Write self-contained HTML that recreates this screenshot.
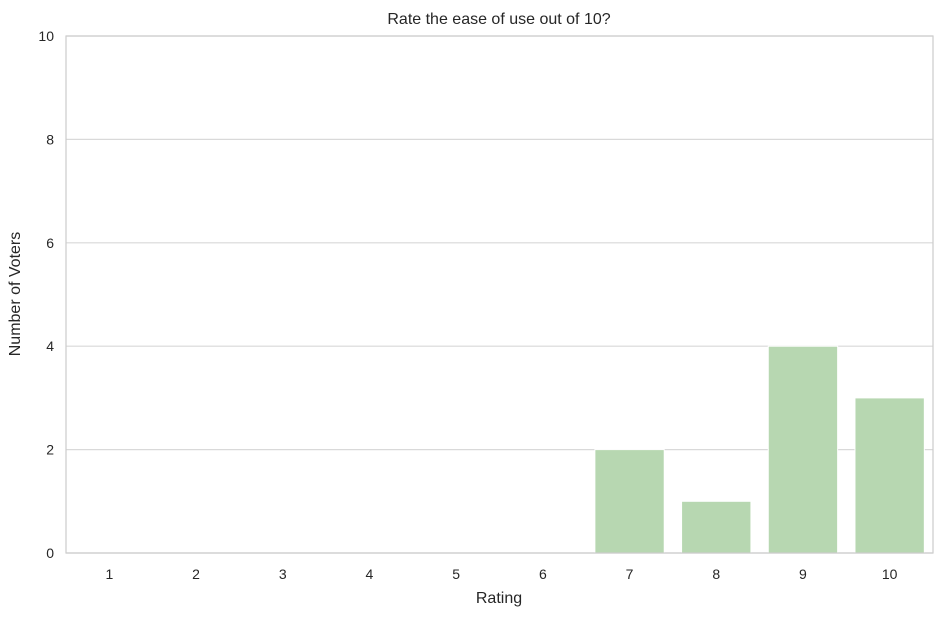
<!DOCTYPE html>
<html><head><meta charset="utf-8"><style>
body{margin:0;background:#fff;font-family:"Liberation Sans",sans-serif;}
svg text{font-family:"Liberation Sans",sans-serif;fill:#262626;}
</style></head><body>
<svg width="952" height="613">
<g id="grid"></g>
<g id="bars"></g>
<g id="ticks"></g>
<rect x="66" y="36" width="867" height="517" fill="none" stroke="#cccccc" stroke-width="1.2"/>
<text x="499" y="24" text-anchor="middle" font-size="16">Rate the ease of use out of 10?</text>
<text x="499" y="603" text-anchor="middle" font-size="16">Rating</text>
<text x="20" y="294" text-anchor="middle" font-size="16" transform="rotate(-90 20 294)">Number of Voters</text>
</svg>
<script>
const categories=["1","2","3","4","5","6","7","8","9","10"];
const values=[0,0,0,0,0,0,2,1,4,3];
const yTicks=[0,2,4,6,8,10];
const L=66,R=933,T=36,B=553,yMax=10;
const NS="http://www.w3.org/2000/svg";
const band=(R-L)/categories.length;
const x=i=>L+i*band;
const y=v=>B-(v/yMax)*(B-T);
function mk(t,a,p){const e=document.createElementNS(NS,t);for(const k in a)e.setAttribute(k,a[k]);p.appendChild(e);return e;}
const grid=document.getElementById('grid'),bars=document.getElementById('bars'),ticks=document.getElementById('ticks');
yTicks.forEach(v=>{
 const l=mk('line',{x1:L,x2:R,y1:y(v),y2:y(v),stroke:'#d9d9d9','stroke-width':1.2},grid);
 
 
 const t=mk('text',{x:L-12,y:y(v)+5,'text-anchor':'end','font-size':14},ticks);
 t.textContent=v;
 
 
});
categories.forEach((c,i)=>{
 const w=band*0.8;
 const r=mk('rect',{x:x(i)+band*0.1,y:y(values[i]),width:w,height:B-y(values[i]),fill:'#b7d7b1',stroke:'#fff','stroke-width':1},bars);
 
 
 const t=mk('text',{x:x(i)+band/2,y:B+26,'text-anchor':'middle','font-size':14},ticks);
 t.textContent=c;
 
 
});
</script>
</body></html>
